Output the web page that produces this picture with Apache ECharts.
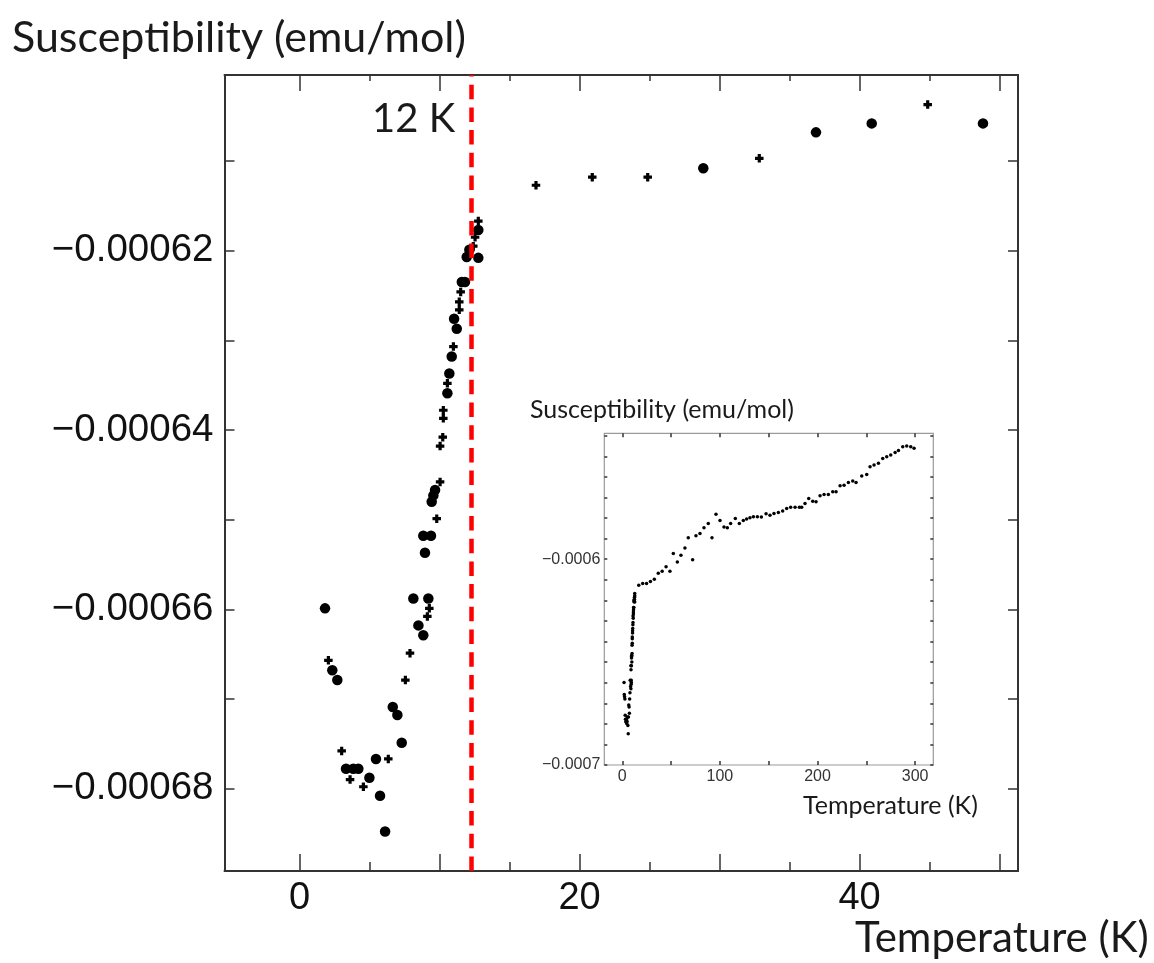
<!DOCTYPE html>
<html>
<head>
<meta charset="utf-8">
<script src="https://cdn.jsdelivr.net/npm/echarts@6/dist/echarts.min.js"></script>
<style>html,body{margin:0;padding:0;background:#fff;}#c{width:1154px;height:963px;}</style>
</head>
<body>
<div id="c"></div>
<script>
// ---- main plot data (T in K, chi in emu/mol) ----
const mainBigT = [28.84, 36.89, 40.87, 48.82,
  12.77, 12.13, 11.94, 12.77, 11.82, 11.59, 11.04, 11.23, 10.87, 10.70, 10.56,
  9.68, 9.56, 9.44, 8.84, 9.39, 8.96, 8.13, 9.20, 8.49, 8.84,
  1.82, 2.34, 2.70, 6.66, 6.99, 7.30, 5.46, 3.32, 3.84, 4.20, 4.99, 5.75, 6.11];
const mainBigChi = [-0.0006108, -0.0006068, -0.0006058, -0.0006058,
  -0.0006177, -0.0006199, -0.0006207, -0.0006208, -0.0006235, -0.0006235, -0.0006276, -0.0006287, -0.0006318, -0.0006337, -0.0006359,
  -0.0006467, -0.0006473, -0.0006480, -0.0006518, -0.0006518, -0.0006537, -0.0006588, -0.0006588, -0.0006618, -0.0006629,
  -0.0006599, -0.0006668, -0.0006679, -0.0006709, -0.0006718, -0.0006749, -0.0006767, -0.0006778, -0.0006778, -0.0006778, -0.0006788, -0.0006808, -0.0006848];
const mainSmallT = [16.89, 20.91, 24.87, 32.84, 44.87,
  12.77, 12.54, 12.41, 11.51, 11.41, 11.41, 10.99, 10.56, 10.27, 10.27, 10.23, 10.04, 10.04,
  9.80, 9.27, 9.13, 7.89, 2.06, 7.56, 3.01, 6.34, 3.61, 4.56];
const mainSmallChi = [-0.0006127, -0.0006118, -0.0006118, -0.0006097, -0.0006037,
  -0.0006167, -0.0006185, -0.0006195, -0.0006246, -0.0006257, -0.0006266, -0.0006307, -0.0006348, -0.0006378, -0.0006387, -0.0006408, -0.0006418, -0.0006458,
  -0.0006499, -0.0006599, -0.0006608, -0.0006649, -0.0006657, -0.0006679, -0.0006758, -0.0006767, -0.0006790, -0.0006798];
// ---- inset extra data above 50 K ----
const insetHighT = [52.3, 56.4, 60.1, 64.2, 67.6, 72.1, 75.5, 79.6, 83.7, 88.1, 91.9, 96.0, 100.1, 104.2, 107.6, 111.0,
  115.8, 119.9, 124.0, 127.4, 130.8, 134.3, 138.4, 142.5, 147.3, 151.3, 155.4, 159.9, 164.3, 168.4, 172.5, 177.0,
  181.4, 183.8, 187.2, 191.0, 195.1, 198.5, 202.6, 206.7, 211.1, 215.6, 219.0, 223.1, 227.2, 231.6, 236.1, 239.5,
  245.3, 250.4, 253.8, 257.9, 262.4, 266.8, 270.9, 275.0, 279.5, 282.9, 287.3, 291.4, 295.5, 298.9];
const insetHighChi = [-0.0005972, -0.0006013, -0.0005981, -0.0005945, -0.0005896, -0.0006002, -0.0005886, -0.0005875,
  -0.0005847, -0.0005826, -0.0005896, -0.0005782, -0.0005812, -0.0005843, -0.0005847, -0.0005826,
  -0.0005802, -0.0005826, -0.0005812, -0.0005805, -0.0005799, -0.0005794, -0.0005794, -0.0005795,
  -0.0005779, -0.0005786, -0.0005778, -0.0005773, -0.0005766, -0.0005753, -0.0005747, -0.0005747,
  -0.0005747, -0.0005747, -0.0005729, -0.0005705, -0.0005718, -0.0005721, -0.0005692, -0.0005685,
  -0.0005685, -0.0005672, -0.0005672, -0.0005643, -0.0005640, -0.0005627, -0.0005620, -0.0005627,
  -0.0005596, -0.0005588, -0.0005550, -0.0005542, -0.0005534, -0.0005510, -0.0005502, -0.0005494,
  -0.0005481, -0.0005471, -0.0005453, -0.0005450, -0.0005453, -0.0005461];
// ---- ticks ----
const mainXMajorTicks = [0, 10, 20, 30, 40, 50];
const mainXMinorTicks = [5, 15, 25, 35, 45];
const mainXLabels = [0, 20, 40];
const mainYTicks = [-0.00068, -0.00067, -0.00066, -0.00065, -0.00064, -0.00063, -0.00062, -0.00061];
const mainYLabels = [-0.00068, -0.00066, -0.00064, -0.00062];
const insetXTicks = [0, 50, 100, 150, 200, 250, 300];
const insetXLabels = [0, 100, 200, 300];
const insetYTicks = [-0.0007, -0.00069, -0.00068, -0.00067, -0.00066, -0.00065, -0.00064, -0.00063, -0.00062, -0.00061,
  -0.0006, -0.00059, -0.00058, -0.00057, -0.00056, -0.00055, -0.00054];
const insetYLabels = [-0.0007, -0.0006];
const transitionT = 12.3;

const zip = (a, b) => a.map((v, i) => [v, b[i]]);
const mainBig = zip(mainBigT, mainBigChi);
const mainSmall = zip(mainSmallT, mainSmallChi);
const insetData = mainBig.concat(mainSmall, zip(insetHighT, insetHighChi));

const M = { xmin: -5.36, xmax: 51.32, ymin: -0.0006892, ymax: -0.0006004 };
const I = { xmin: -18.4, xmax: 318.6, ymin: -0.0007, ymax: -0.0005388 };
const frame = '#333';
const minus = s => '\u2212' + s;

function xa(grid, pos, min, max, ticks, len, showLine, labels, labelOpt, lineColor, lineW) {
  return {
    type: 'value', gridIndex: grid, position: pos, min: min, max: max,
    splitLine: { show: false },
    axisLine: { show: showLine, onZero: false, lineStyle: { color: lineColor || frame, width: lineW || 2 } },
    axisTick: { show: true, inside: true, length: len, customValues: ticks, lineStyle: { color: frame, width: 1.5 } },
    axisLabel: labels ? Object.assign({ show: true, customValues: labels }, labelOpt) : { show: false }
  };
}

const option = {
  animation: false,
  backgroundColor: '#fff',
  grid: [
    { left: 224.5, top: 75, width: 793.5, height: 796, containLabel: false },
    { left: 604.3, top: 433.3, width: 329, height: 331.7, show: true, backgroundColor: '#fff', borderColor: '#9a9a9a', borderWidth: 1.2, containLabel: false }
  ],
  xAxis: [
    xa(0, 'bottom', M.xmin, M.xmax, mainXMajorTicks, 17, true, mainXLabels,
      { margin: 9, fontSize: 38, color: '#111', fontFamily: 'Liberation Sans' }),
    xa(0, 'bottom', M.xmin, M.xmax, mainXMinorTicks, 9, false, null),
    xa(0, 'top', M.xmin, M.xmax, mainXMajorTicks, 16, true, null),
    xa(0, 'top', M.xmin, M.xmax, mainXMinorTicks, 6, false, null),
    xa(1, 'bottom', I.xmin, I.xmax, insetXTicks, 4, false, insetXLabels,
      { margin: 4, fontSize: 16, color: '#333', fontFamily: 'Liberation Sans' }),
    xa(1, 'top', I.xmin, I.xmax, insetXTicks, 4, false, null)
  ],
  yAxis: [
    xa(0, 'left', M.ymin, M.ymax, mainYTicks, 10, true, mainYLabels,
      { margin: 11, fontSize: 38.5, color: '#111', fontFamily: 'Liberation Sans',
        formatter: v => minus(Math.abs(v).toFixed(5)) }),
    xa(0, 'right', M.ymin, M.ymax, mainYTicks, 10, true, null),
    xa(1, 'left', I.ymin, I.ymax, insetYTicks, 3, false, insetYLabels,
      { margin: 4, fontSize: 16, color: '#333', fontFamily: 'Liberation Sans',
        formatter: v => minus(Math.abs(v).toFixed(4)) }),
    xa(1, 'right', I.ymin, I.ymax, insetYTicks, 3, false, null)
  ],
  series: [
    {
      type: 'scatter', xAxisIndex: 0, yAxisIndex: 0, data: mainBig,
      symbol: 'circle', symbolSize: 10.5, itemStyle: { color: '#000', opacity: 1 }, z: 3,
      markLine: {
        silent: true, symbol: 'none', label: { show: false },
        lineStyle: { color: '#ff0000', width: 4.5, type: [14.5, 8.2], opacity: 1 },
        data: [{ xAxis: transitionT }]
      }
    },
    {
      type: 'scatter', xAxisIndex: 0, yAxisIndex: 0, data: mainSmall,
      symbol: 'path://M2.5,0H5.5V2.5H8V5.5H5.5V8H2.5V5.5H0V2.5H2.5Z', symbolSize: 8.5,
      itemStyle: { color: '#000', opacity: 1 }, z: 3
    },
    {
      type: 'scatter', xAxisIndex: 4, yAxisIndex: 2, data: insetData,
      symbol: 'circle', symbolSize: 3.5, itemStyle: { color: '#000', opacity: 1 }, z: 5
    }
  ],
  graphic: [
    { type: 'text', left: 12, top: 17, style: { text: 'Susceptibility (emu/mol)', fontFamily: 'Lato', fontSize: 43, fill: '#1a1a1a' } },
    { type: 'text', left: 372, top: 99, style: { text: '12 K', fontFamily: 'Lato', fontSize: 40, fill: '#1a1a1a' } },
    { type: 'text', left: 855, top: 917, style: { text: 'Temperature (K)', fontFamily: 'Lato', fontSize: 42, fill: '#1a1a1a' } },
    { type: 'text', left: 530, top: 397, style: { text: 'Susceptibility (emu/mol)', fontFamily: 'Lato', fontSize: 25, fill: '#1a1a1a' } },
    { type: 'text', left: 803, top: 793, style: { text: 'Temperature (K)', fontFamily: 'Lato', fontSize: 25, fill: '#1a1a1a' } }
  ]
};
const chart = echarts.init(document.getElementById('c'), null, { renderer: 'canvas' });
chart.setOption(option);
</script>
</body>
</html>
